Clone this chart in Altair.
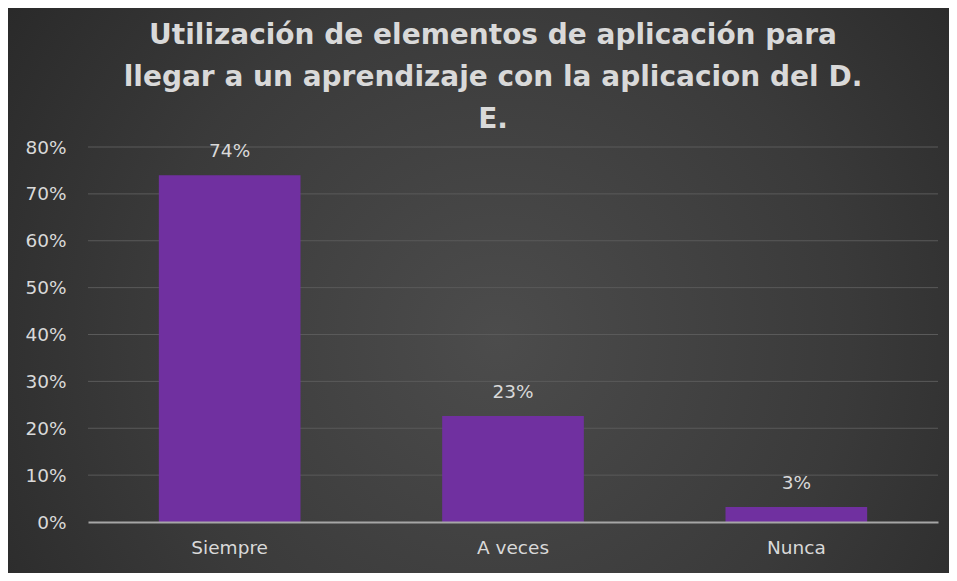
import altair as alt
import pandas as pd

categories = ["Siempre", "A veces", "Nunca"]
values = [0.74, 0.226, 0.032]
labels = ["74%", "23%", "3%"]
y_ticks = [0, 0.1, 0.2, 0.3, 0.4, 0.5, 0.6, 0.7, 0.8]
title_lines = [
    "Utilización de elementos de aplicación para",
    "llegar a un aprendizaje con la aplicacion del D.",
    "E.",
]

df = pd.DataFrame({"cat": categories, "val": values, "lab": labels})
grid_df = pd.DataFrame({"val": y_ticks[1:]})

W, H = 850, 375
PL, PT, PR, PB = 80, 139, 11, 51
TXT = "#d9d9d9"
FONT = "DejaVu Sans"
FS = 18.5

y_scale = alt.Scale(domain=[0, 0.8], nice=False)
y_axis = alt.Axis(
    values=y_ticks, format=".0%", labelFont=FONT, labelFontSize=FS,
    labelColor=TXT, labelPadding=22, ticks=False, domain=False,
    grid=False, zindex=1,
)

bg = alt.Chart(pd.DataFrame({"a": [0]})).mark_rect(
    fill=alt.Gradient(
        gradient="radial",
        stops=[
            alt.GradientStop(color="#4c4c4c", offset=0),
            alt.GradientStop(color="#3a3a3a", offset=0.5),
            alt.GradientStop(color="#222222", offset=1),
        ],
        x1=0.52, y1=0.55, r1=0, x2=0.52, y2=0.55, r2=0.75,
    ),
    clip=False,
).encode(
    x=alt.value(-PL), x2=alt.value(W + PR),
    y=alt.value(-PT), y2=alt.value(H + PB),
)

grid = alt.Chart(grid_df).mark_rule(color="#5a5a5a", strokeWidth=1).encode(
    y=alt.Y("val:Q", title=None, scale=y_scale, axis=y_axis),
)

base = alt.Chart(df).encode(
    x=alt.X(
        "cat:N", sort=categories, title=None,
        scale=alt.Scale(paddingInner=0.5, paddingOuter=0.25),
        axis=alt.Axis(
            labelAngle=0, labelFont=FONT, labelFontSize=FS, labelColor=TXT,
            labelPadding=16, ticks=False, domainColor="#a6a6a6", domainWidth=2,
            grid=False, zindex=1,
        ),
    ),
    y=alt.Y("val:Q", title=None, scale=y_scale, axis=y_axis),
)

bars = base.mark_bar(color="#7030a0")
text = base.mark_text(
    font=FONT, fontSize=FS, color=TXT, baseline="alphabetic", dy=-18
).encode(text="lab:N")

chart = alt.layer(bg, grid, bars, text).properties(
    width=W, height=H,
    padding={"left": PL, "top": PT, "right": PR, "bottom": PB},
    autosize=alt.AutoSizeParams(type="none"),
    background="#2e2e2e",
    title=alt.TitleParams(
        text=title_lines, font=FONT, fontSize=28, fontWeight="bold",
        color=TXT, lineHeight=42, anchor="middle", dx=-20, offset=-126,
    ),
).configure_view(stroke=None)

chart.save("out.html", embed_options={"renderer": "svg", "actions": False})
